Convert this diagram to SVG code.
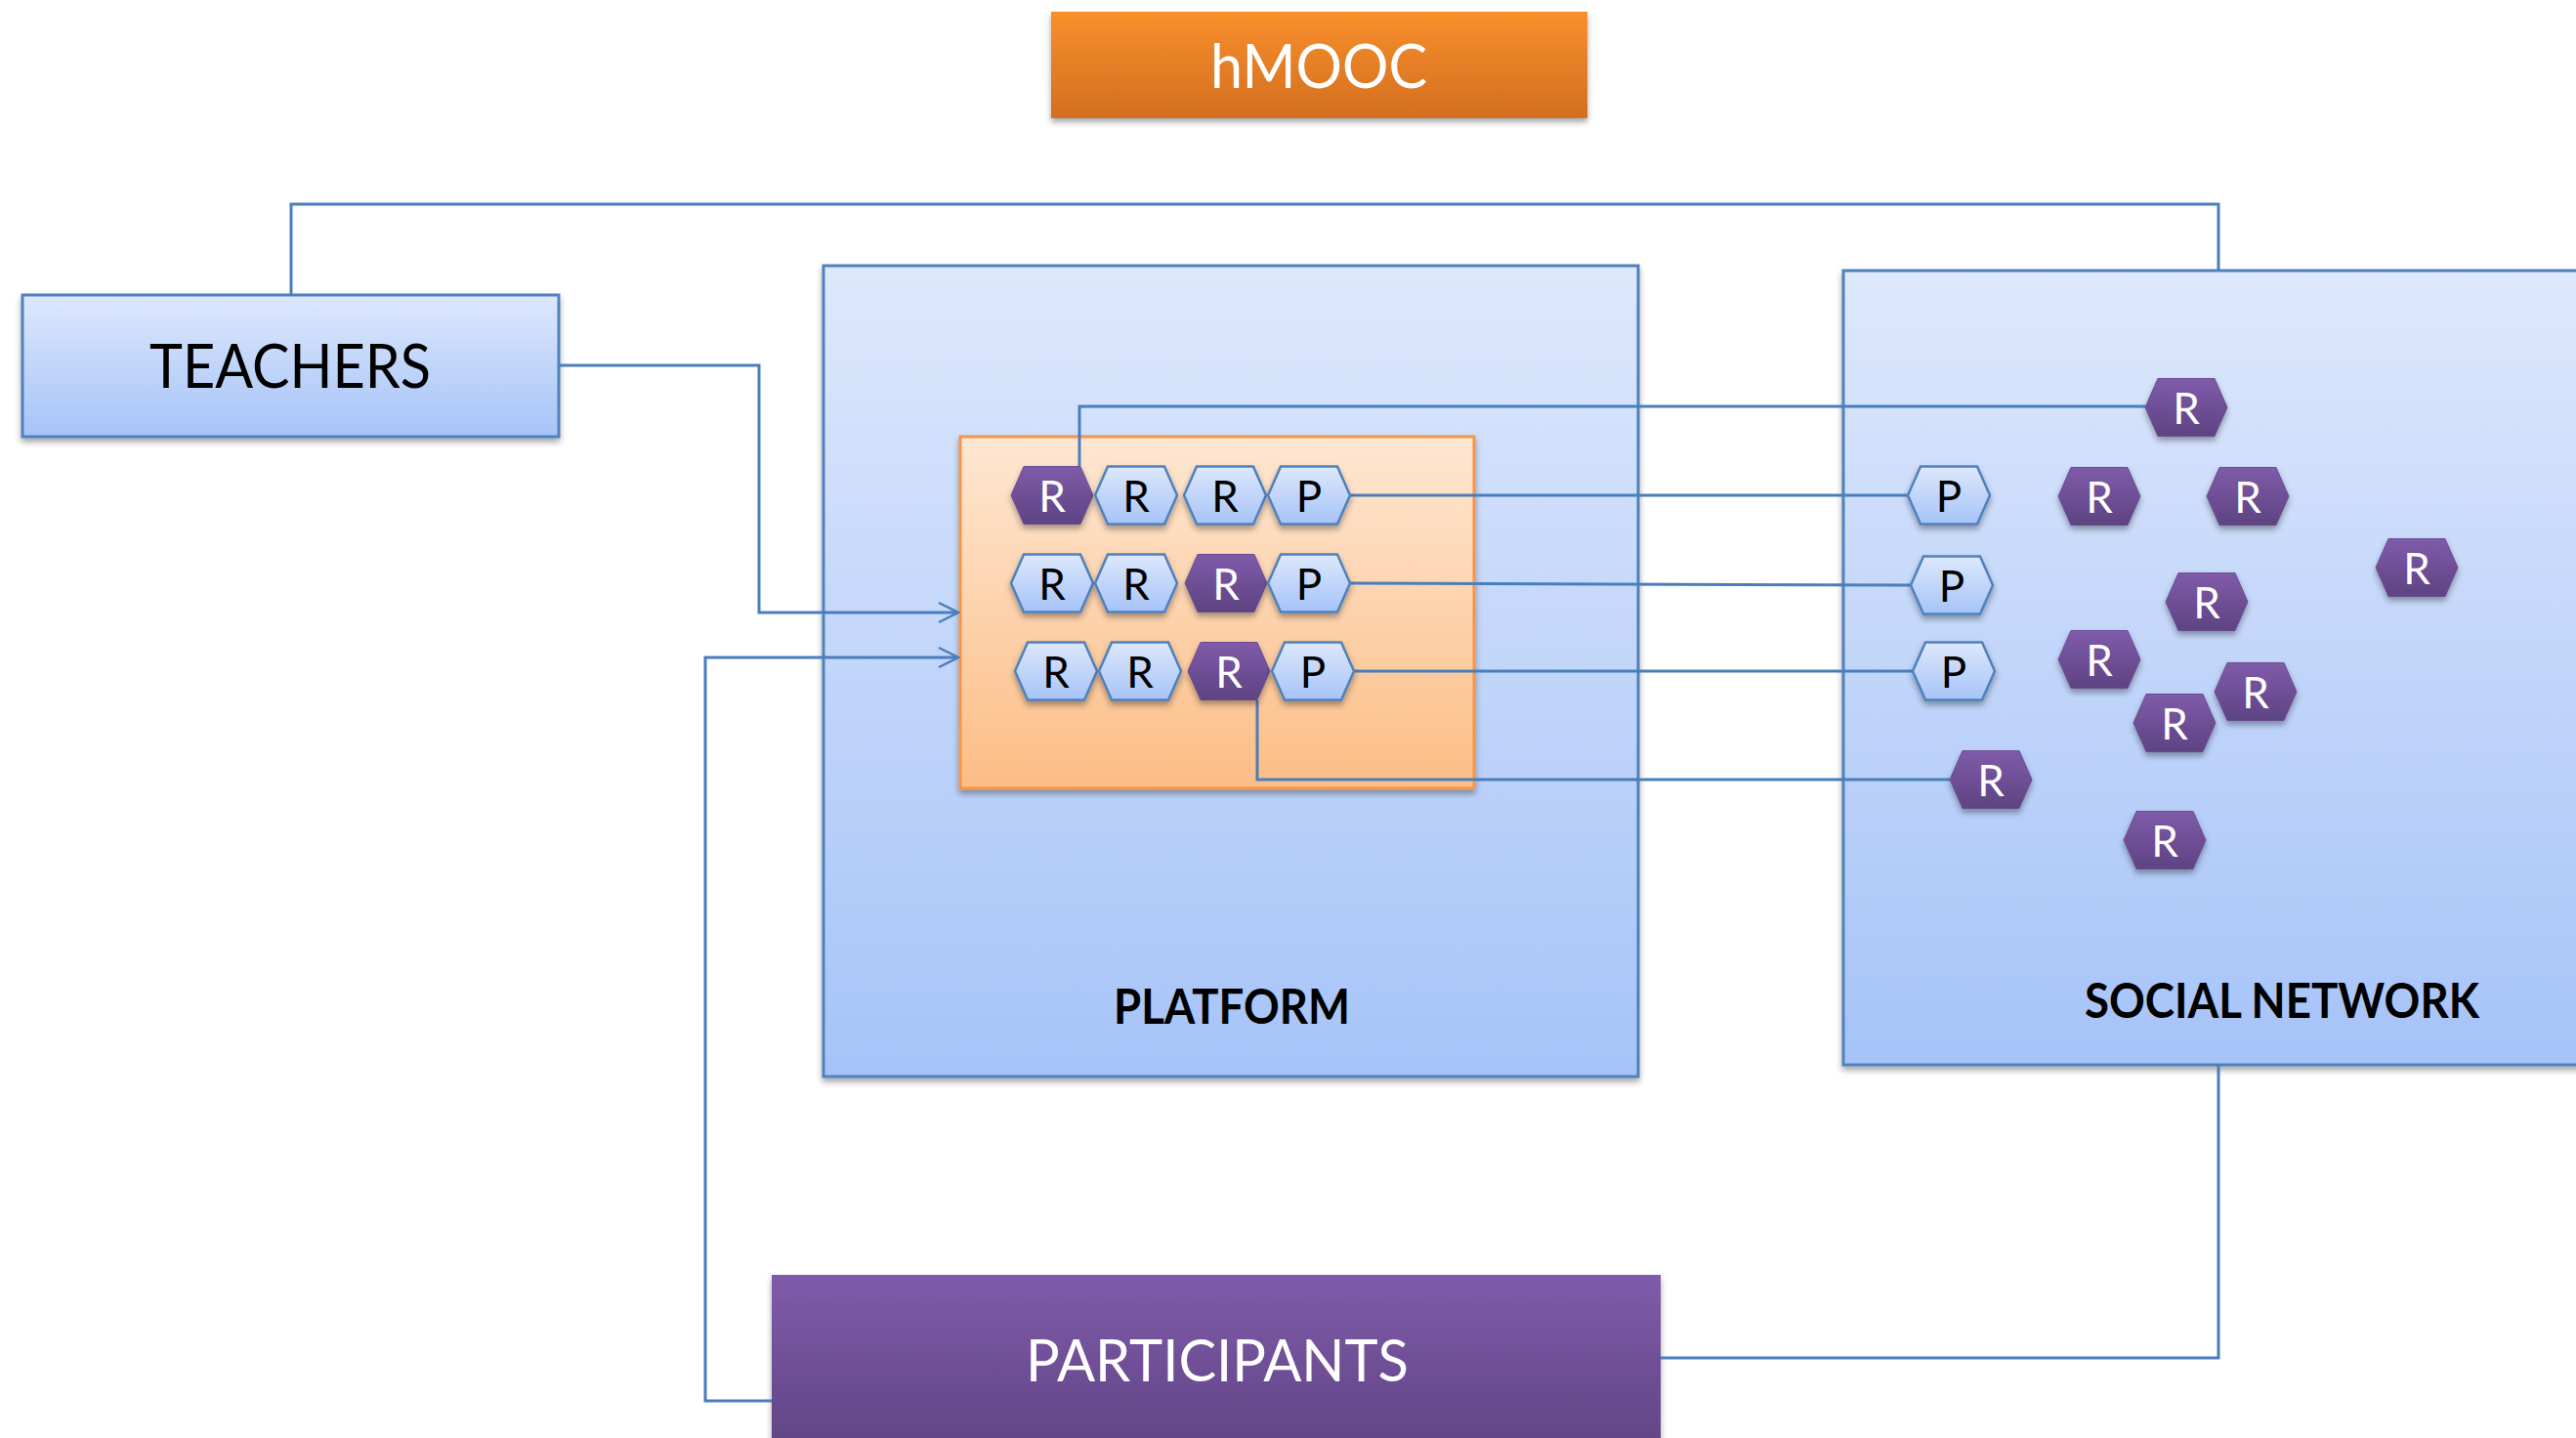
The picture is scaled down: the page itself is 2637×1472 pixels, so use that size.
<svg xmlns="http://www.w3.org/2000/svg" xmlns:xlink="http://www.w3.org/1999/xlink" width="2637" height="1472" viewBox="0 0 2637 1472">
<defs>
<linearGradient id="gBlue" x1="0" y1="0" x2="0" y2="1"><stop offset="0" stop-color="#DDE8FC"/><stop offset="1" stop-color="#A6C3F8"/></linearGradient>
<linearGradient id="gOrange" x1="0" y1="0" x2="0" y2="1"><stop offset="0" stop-color="#F8902C"/><stop offset="1" stop-color="#D36E20"/></linearGradient>
<linearGradient id="gPeach" x1="0" y1="0" x2="0" y2="1"><stop offset="0" stop-color="#FEE7D3"/><stop offset="1" stop-color="#FCBD85"/></linearGradient>
<linearGradient id="gPurple" x1="0" y1="0" x2="0" y2="1"><stop offset="0" stop-color="#7F5BAA"/><stop offset="1" stop-color="#5E4382"/></linearGradient>
<filter id="sh" x="-20%" y="-20%" width="140%" height="150%"><feDropShadow dx="0" dy="4" stdDeviation="3" flood-color="#000" flood-opacity="0.35"/></filter>
<polygon id="hex" points="-42,0 -29,-29.5 29,-29.5 42,0 29,29.5 -29,29.5"/>
<marker id="arr" viewBox="0 0 24 24" refX="22" refY="12" markerWidth="24" markerHeight="24" markerUnits="userSpaceOnUse" orient="auto"><path d="M2,2 L22,12 L2,22" fill="none" stroke="#4A7EBB" stroke-width="2.5"/></marker>
</defs>
<style>
.box{fill:url(#gBlue);stroke:#4F81BD;stroke-width:3;filter:url(#sh)}
.conn{fill:none;stroke:#4A7EBB;stroke-width:3}
.hl{fill:url(#gBlue);stroke:#4F81BD;stroke-width:2.5;filter:url(#sh)}
.hp{fill:url(#gPurple);stroke:#6A4C93;stroke-width:1;filter:url(#sh)}
.t{font-family:Lato,"Liberation Sans",sans-serif;text-anchor:middle}
.hx{font-family:Lato,"Liberation Sans",sans-serif;font-size:44px;text-anchor:middle}
.dk{fill:#000}
.wt{fill:#fff}
</style>
<rect width="2637" height="1472" fill="#fff"/>

<g id="social-network">
<rect class="box" x="1887" y="277" width="780" height="813"/>
<text class="t dk" x="2336" y="1042" font-size="49" font-weight="bold" textLength="404" lengthAdjust="spacingAndGlyphs">SOCIAL NETWORK</text>
</g>
<g id="platform">
<rect class="box" x="843" y="272" width="834" height="830"/>
<text class="t dk" x="1261" y="1048" font-size="49" font-weight="bold" textLength="242" lengthAdjust="spacingAndGlyphs">PLATFORM</text>
</g>
<g id="platform-content">
<rect x="983" y="447" width="526" height="360" fill="url(#gPeach)" stroke="#F6954A" stroke-width="3" filter="url(#sh)"/>
</g>
<g id="teachers">
<rect class="box" x="23" y="302" width="549" height="145"/>
<text class="t dk" x="297" y="397" font-size="61" textLength="288" lengthAdjust="spacingAndGlyphs">TEACHERS</text>
</g>
<g id="hmooc">
<rect x="1076" y="12" width="549" height="109" fill="url(#gOrange)" filter="url(#sh)"/>
<text class="t wt" x="1350" y="90" font-size="62" textLength="222" lengthAdjust="spacingAndGlyphs">hMOOC</text>
</g>
<g id="participants">
<rect x="790" y="1305" width="910" height="190" fill="url(#gPurple)" filter="url(#sh)"/>
<text class="t wt" x="1246" y="1414" font-size="60" textLength="392" lengthAdjust="spacingAndGlyphs">PARTICIPANTS</text>
</g>

<g id="connectors">
<path class="conn" d="M298 302 V209 H2271 V277"/>
<path class="conn" d="M572 374 H777 V627 H981" marker-end="url(#arr)"/>
<path class="conn" d="M790 1434 H722 V673 H981" marker-end="url(#arr)"/>
<path class="conn" d="M1700 1390 H2271 V1090"/>
<path class="conn" d="M1105 477 V416 H2196"/>
<path class="conn" d="M1382 507 H1953"/>
<path class="conn" d="M1382 597 L1956 599"/>
<path class="conn" d="M1386 687 H1958"/>
<path class="conn" d="M1287 717 V798 H1996"/>
</g>

<g id="p-r1-1" transform="translate(1077,507)"><use href="#hex" class="hp"/><text class="hx wt" y="17">R</text></g>
<g id="p-r1-2" transform="translate(1163,507)"><use href="#hex" class="hl"/><text class="hx dk" y="17">R</text></g>
<g id="p-r1-3" transform="translate(1254,507)"><use href="#hex" class="hl"/><text class="hx dk" y="17">R</text></g>
<g id="p-r1-4" transform="translate(1340,507)"><use href="#hex" class="hl"/><text class="hx dk" y="17">P</text></g>

<g id="p-r2-1" transform="translate(1077,597)"><use href="#hex" class="hl"/><text class="hx dk" y="17">R</text></g>
<g id="p-r2-2" transform="translate(1163,597)"><use href="#hex" class="hl"/><text class="hx dk" y="17">R</text></g>
<g id="p-r2-3" transform="translate(1255,597)"><use href="#hex" class="hp"/><text class="hx wt" y="17">R</text></g>
<g id="p-r2-4" transform="translate(1340,597)"><use href="#hex" class="hl"/><text class="hx dk" y="17">P</text></g>

<g id="p-r3-1" transform="translate(1081,687)"><use href="#hex" class="hl"/><text class="hx dk" y="17">R</text></g>
<g id="p-r3-2" transform="translate(1167,687)"><use href="#hex" class="hl"/><text class="hx dk" y="17">R</text></g>
<g id="p-r3-3" transform="translate(1258,687)"><use href="#hex" class="hp"/><text class="hx wt" y="17">R</text></g>
<g id="p-r3-4" transform="translate(1344,687)"><use href="#hex" class="hl"/><text class="hx dk" y="17">P</text></g>

<g id="sn-r1" transform="translate(2238,417)"><use href="#hex" class="hp"/><text class="hx wt" y="17">R</text></g>
<g id="sn-p1" transform="translate(1995,507)"><use href="#hex" class="hl"/><text class="hx dk" y="17">P</text></g>
<g id="sn-r2" transform="translate(2149,508)"><use href="#hex" class="hp"/><text class="hx wt" y="17">R</text></g>
<g id="sn-r3" transform="translate(2301,508)"><use href="#hex" class="hp"/><text class="hx wt" y="17">R</text></g>
<g id="sn-r4" transform="translate(2474,581)"><use href="#hex" class="hp"/><text class="hx wt" y="17">R</text></g>
<g id="sn-p2" transform="translate(1998,599)"><use href="#hex" class="hl"/><text class="hx dk" y="17">P</text></g>
<g id="sn-r5" transform="translate(2259,616)"><use href="#hex" class="hp"/><text class="hx wt" y="17">R</text></g>
<g id="sn-p3" transform="translate(2000,687)"><use href="#hex" class="hl"/><text class="hx dk" y="17">P</text></g>
<g id="sn-r6" transform="translate(2149,675)"><use href="#hex" class="hp"/><text class="hx wt" y="17">R</text></g>
<g id="sn-r7" transform="translate(2309,708)"><use href="#hex" class="hp"/><text class="hx wt" y="17">R</text></g>
<g id="sn-r8" transform="translate(2226,740)"><use href="#hex" class="hp"/><text class="hx wt" y="17">R</text></g>
<g id="sn-r9" transform="translate(2038,798)"><use href="#hex" class="hp"/><text class="hx wt" y="17">R</text></g>
<g id="sn-r10" transform="translate(2216,860)"><use href="#hex" class="hp"/><text class="hx wt" y="17">R</text></g>
</svg>
